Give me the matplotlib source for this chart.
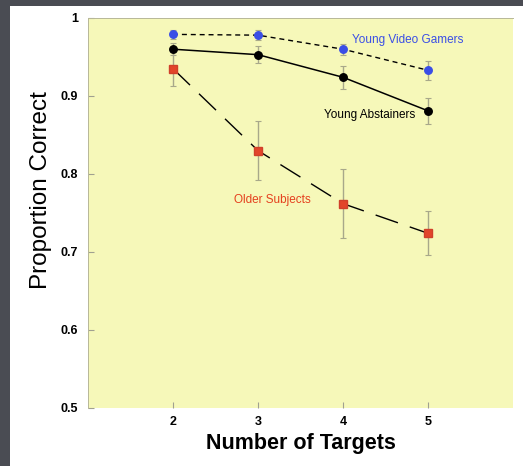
import matplotlib
matplotlib.use("Agg")
import matplotlib.pyplot as plt
from matplotlib.patches import Rectangle

# --- Data ---
targets = [2, 3, 4, 5]

gamers = [0.979, 0.978, 0.960, 0.933]
gamers_err = [0.006, 0.006, 0.007, 0.012]

abstainers = [0.960, 0.953, 0.924, 0.881]
abstainers_err = [0.008, 0.011, 0.015, 0.017]

older = [0.935, 0.830, 0.762, 0.724]
older_err = [0.022, 0.038, 0.044, 0.028]

yticks = [0.5, 0.6, 0.7, 0.8, 0.9, 1.0]
ytick_labels = ["0.5", "0.6", "0.7", "0.8", "0.9", "1"]

plt.rcParams['font.family'] = ['Liberation Sans', 'DejaVu Sans']

W, H = 523, 466
fig = plt.figure(figsize=(W / 100, H / 100), dpi=100, facecolor='#4a4c53')
# white slide panel behind the chart
fig.patches.append(Rectangle((10 / W, 0), 1 - 10 / W, (H - 6) / H,
                             transform=fig.transFigure, facecolor='white',
                             edgecolor='none', zorder=-10))

ax = fig.add_axes([88 / W, 1 - 408 / H, (513 - 88) / W, (408 - 18) / H])
ax.set_facecolor('#f6f8b9')

err_kw = dict(ecolor='#a8a88a', elinewidth=1.0, capsize=2.5, capthick=0.8)

ax.errorbar(targets, older, yerr=older_err, color='black', lw=1.0,
            dashes=(17, 9), marker='s', ms=5.2, mfc='#e2452a', mec='#d0402a',
            zorder=3, **err_kw)
ax.errorbar(targets, abstainers, yerr=abstainers_err, color='black', lw=1.1,
            marker='o', ms=5.4, mfc='black', mec='black', zorder=4, **err_kw)
ax.errorbar(targets, gamers, yerr=gamers_err, color='black', lw=1.0,
            dashes=(3.6, 2.8), marker='o', ms=5.4, mfc='#3a4ee6', mec='#3a4ee6',
            zorder=5, **err_kw)

ax.text(4.106, 0.9718, "Young Video Gamers", color='#3a4ee6', fontsize=8.5,
        va='center', ha='left')
ax.text(3.776, 0.8756, "Young Abstainers", color='black', fontsize=8.5,
        va='center', ha='left')
ax.text(2.718, 0.7667, "Older Subjects", color='#e5401e', fontsize=8.5,
        va='center', ha='left')

ax.set_xlim(1, 6)
ax.set_ylim(0.5, 1.0)
ax.set_xticks(targets)
ax.set_yticks(yticks)
ax.set_yticklabels(ytick_labels)
ax.tick_params(axis='both', direction='in', length=4, color='#a0a090',
               labelsize=9)
ax.tick_params(axis='y', pad=7)
ax.tick_params(axis='x', pad=6)
for lbl in ax.get_xticklabels() + ax.get_yticklabels():
    lbl.set_fontweight('bold')

for side in ['bottom', 'right']:
    ax.spines[side].set_visible(False)
for side in ['left', 'top']:
    ax.spines[side].set_color('#b8b898')
    ax.spines[side].set_linewidth(0.7)

ax.set_xlabel("Number of Targets", fontsize=15.5, fontweight='bold', labelpad=3)
ax.set_ylabel("Proportion Correct", fontsize=17.5, labelpad=6)
ax.yaxis.label.set_y(0.56)  # label sits a bit above the axis centre

fig.savefig("out.png", dpi=100, facecolor=fig.get_facecolor())
